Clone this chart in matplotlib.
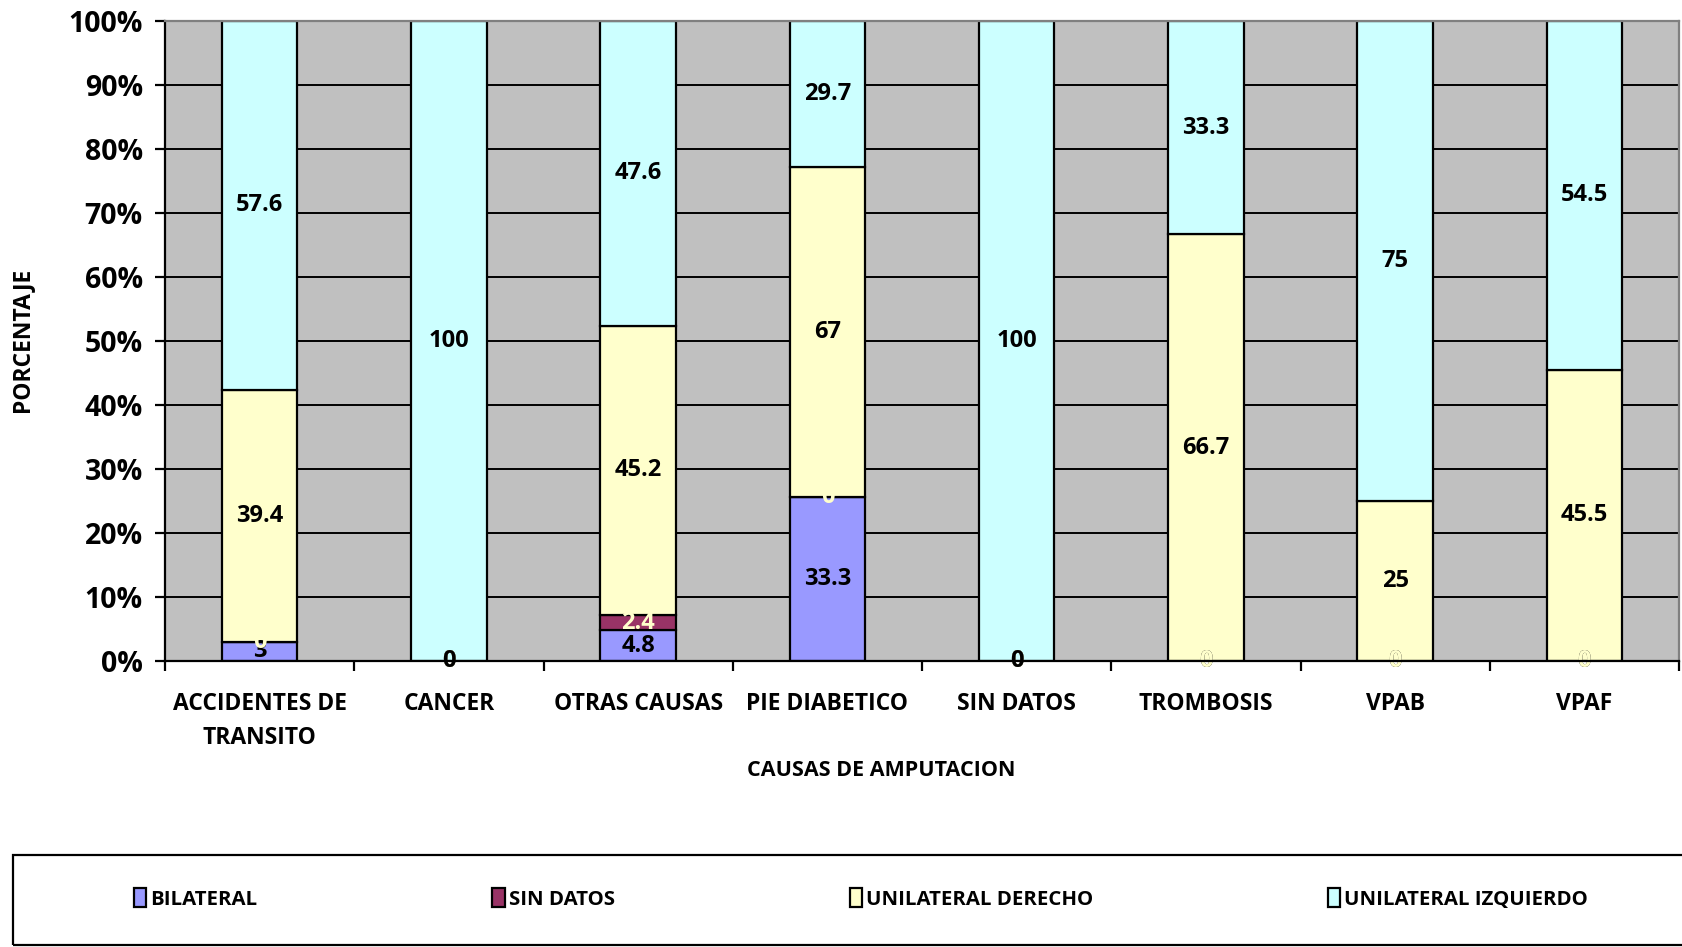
import matplotlib
matplotlib.use("Agg")
import matplotlib.pyplot as plt
from matplotlib.patches import Rectangle
import numpy as np

# amputation causes and laterality (raw values, normalised to 100% per cause)
causes = ["ACCIDENTES DE\nTRANSITO", "CANCER", "OTRAS CAUSAS", "PIE DIABETICO",
          "SIN DATOS", "TROMBOSIS", "VPAB", "VPAF"]
bilateral = [3, 0, 4.8, 33.3, 0, 0, 0, 0]
sin_datos = [0, 0, 2.4, 0, 0, 0, 0, 0]
unilateral_derecho = [39.4, 0, 45.2, 67, 0, 66.7, 25, 45.5]
unilateral_izquierdo = [57.6, 100, 47.6, 29.7, 100, 33.3, 75, 54.5]
y_ticks = [0, 10, 20, 30, 40, 50, 60, 70, 80, 90, 100]

series = [
    ("BILATERAL", bilateral, "#9999FF", "black"),
    ("SIN DATOS", sin_datos, "#993366", "#FFFFCC"),
    ("UNILATERAL DERECHO", unilateral_derecho, "#FFFFCC", "black"),
    ("UNILATERAL IZQUIERDO", unilateral_izquierdo, "#CCFFFF", "black"),
]

plt.rcParams.update({"font.family": ["Open Sans", "DejaVu Sans"], "font.weight": "bold"})

fig = plt.figure(figsize=(16.82, 9.47), dpi=100)
ax = fig.add_axes([165 / 1682, 1 - 661 / 947, 1514 / 1682, 640 / 947])
ax.set_facecolor("#C0C0C0")

x = np.arange(len(causes))
totals = np.sum([s[1] for s in series], axis=0)
bottom = np.zeros(len(causes))
handles = []
for name, vals, color, txt_color in series:
    vals = np.array(vals, dtype=float)
    pct = vals / totals * 100
    h = ax.bar(x, pct, 0.4, bottom=bottom, color=color, edgecolor="black",
               linewidth=1.6, zorder=2, label=name)
    handles.append(h)
    for xi, b, p, v in zip(x, bottom, pct, vals):
        ax.text(xi, b + p / 2, f"{v:g}", ha="center", va="center",
                fontsize=17, fontweight="bold", color=txt_color, zorder=4)
    bottom += pct

ax.set_xlim(-0.5, len(causes) - 0.5)
ax.set_ylim(0, 100)
ax.set_yticks(y_ticks)
ax.set_yticklabels([f"{t}%" for t in y_ticks], fontsize=20.5, fontweight="bold")
ax.yaxis.grid(True, color="black", linewidth=1.4, zorder=0)
ax.set_axisbelow(True)
ax.tick_params(axis="y", length=7, width=1.6, pad=9)

ax.set_xticks(x)
ax.set_xticklabels(causes, fontsize=16.5, fontweight="bold", linespacing=1.6)
ax.set_xticks(np.arange(len(causes) + 1) - 0.5, minor=True)
ax.tick_params(axis="x", which="major", length=0, pad=22)
ax.tick_params(axis="x", which="minor", length=7, width=1.6)

for side in ("top", "right"):
    ax.spines[side].set_color("#808080")
    ax.spines[side].set_linewidth(1.6)
for side in ("left", "bottom"):
    ax.spines[side].set_color("black")
    ax.spines[side].set_linewidth(1.6)
ax.spines["bottom"].set_zorder(5)

ax.set_xlabel("CAUSAS DE AMPUTACION", fontsize=15.5, fontweight="bold")
ax.xaxis.set_label_coords(0.473, -0.155)
fig.text(22 / 1682, 1 - 340 / 947, "PORCENTAJE", rotation=90, ha="center",
         va="center", fontsize=16.5, fontweight="bold")

# legend box along the bottom
fig.patches.append(Rectangle((13 / 1682, 2 / 947), 1.0, 90 / 947,
                             transform=fig.transFigure, fill=False,
                             edgecolor="black", linewidth=1.6))
fig.legend(handles=handles, loc="center left", ncol=4,
           bbox_to_anchor=(126 / 1682, 1 - 899 / 947), frameon=False,
           prop={"size": 14.7, "weight": "bold"}, handlelength=0.6,
           handleheight=1.0, handletextpad=0.2, columnspacing=11.5,
           borderaxespad=0)

fig.savefig("out.png", dpi=100)
